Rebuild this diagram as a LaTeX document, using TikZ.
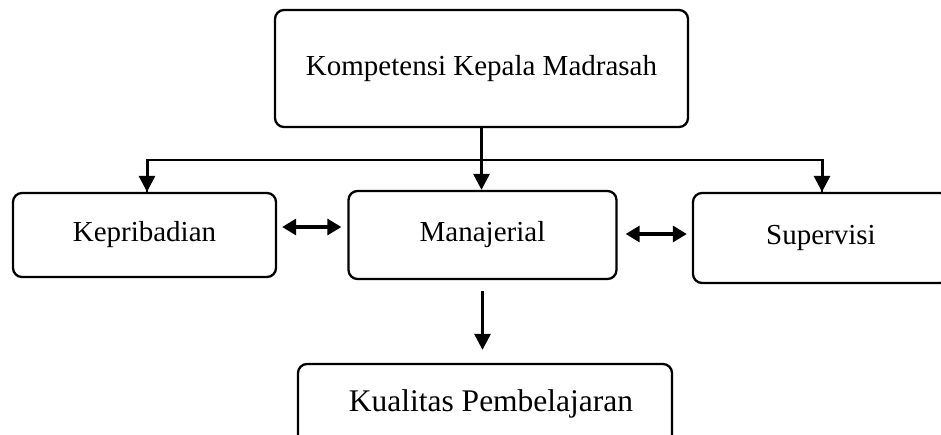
\documentclass[tikz,border=0pt]{standalone}
\usepackage{fontspec}
\setmainfont{Liberation Serif}
\usetikzlibrary{arrows.meta}
\begin{document}
\begin{tikzpicture}[x=1pt,y=-1pt,
  box/.style={draw=black,line width=2.3pt,rounded corners=9pt,inner sep=0pt,font=\fontsize{29}{34}\selectfont},
  arr/.style={line width=3pt,-{Triangle[width=16pt,length=16pt]}},
  darr/.style={line width=3.2pt,{Triangle[width=16pt,length=14pt]}-{Triangle[width=16pt,length=14pt]}},
  link/.style={line width=2.2pt}]
\useasboundingbox (0,0) rectangle (941,434);
\clip (0,0) rectangle (941,434);
\node[box,minimum width=413pt,minimum height=117pt] (top) at (481.5,68.5) {Kompetensi Kepala Madrasah};
\node[box,minimum width=263pt,minimum height=84pt] (kep) at (144.5,235) {Kepribadian};
\node[box,minimum width=268pt,minimum height=88pt] (man) at (482.5,235) {Manajerial};
\node[box,minimum width=256pt,minimum height=90pt] (sup) at (821,238) {Supervisi};
\node[box,minimum width=374pt,minimum height=80pt,font=\fontsize{31.5}{36}\selectfont] (kual) at (485,404) {\hspace*{12pt}Kualitas Pembelajaran};
\coordinate (j) at (481.5,160);
\draw[arr] (top.south) -- (top.south |- man.north);
\draw[link] (j) -| ([xshift=2.5pt]kep.north);
\draw[link] (j) -| ([xshift=1pt]sup.north);
\draw[arr] (147,159) -- ([xshift=2.5pt]kep.north);
\draw[arr] (822,159) -- ([xshift=1pt]sup.north);
\draw[darr] ([shift={(5pt,8pt)}]kep.east) -- ([shift={(-6pt,8pt)}]man.west);
\draw[darr] ([shift={(8pt,1pt)}]man.east) -- ([shift={(-5pt,4pt)}]sup.west);
\draw[arr] ([yshift=-11pt]man.south) -- ([yshift=13pt]man.south |- kual.north);
\end{tikzpicture}
\end{document}
